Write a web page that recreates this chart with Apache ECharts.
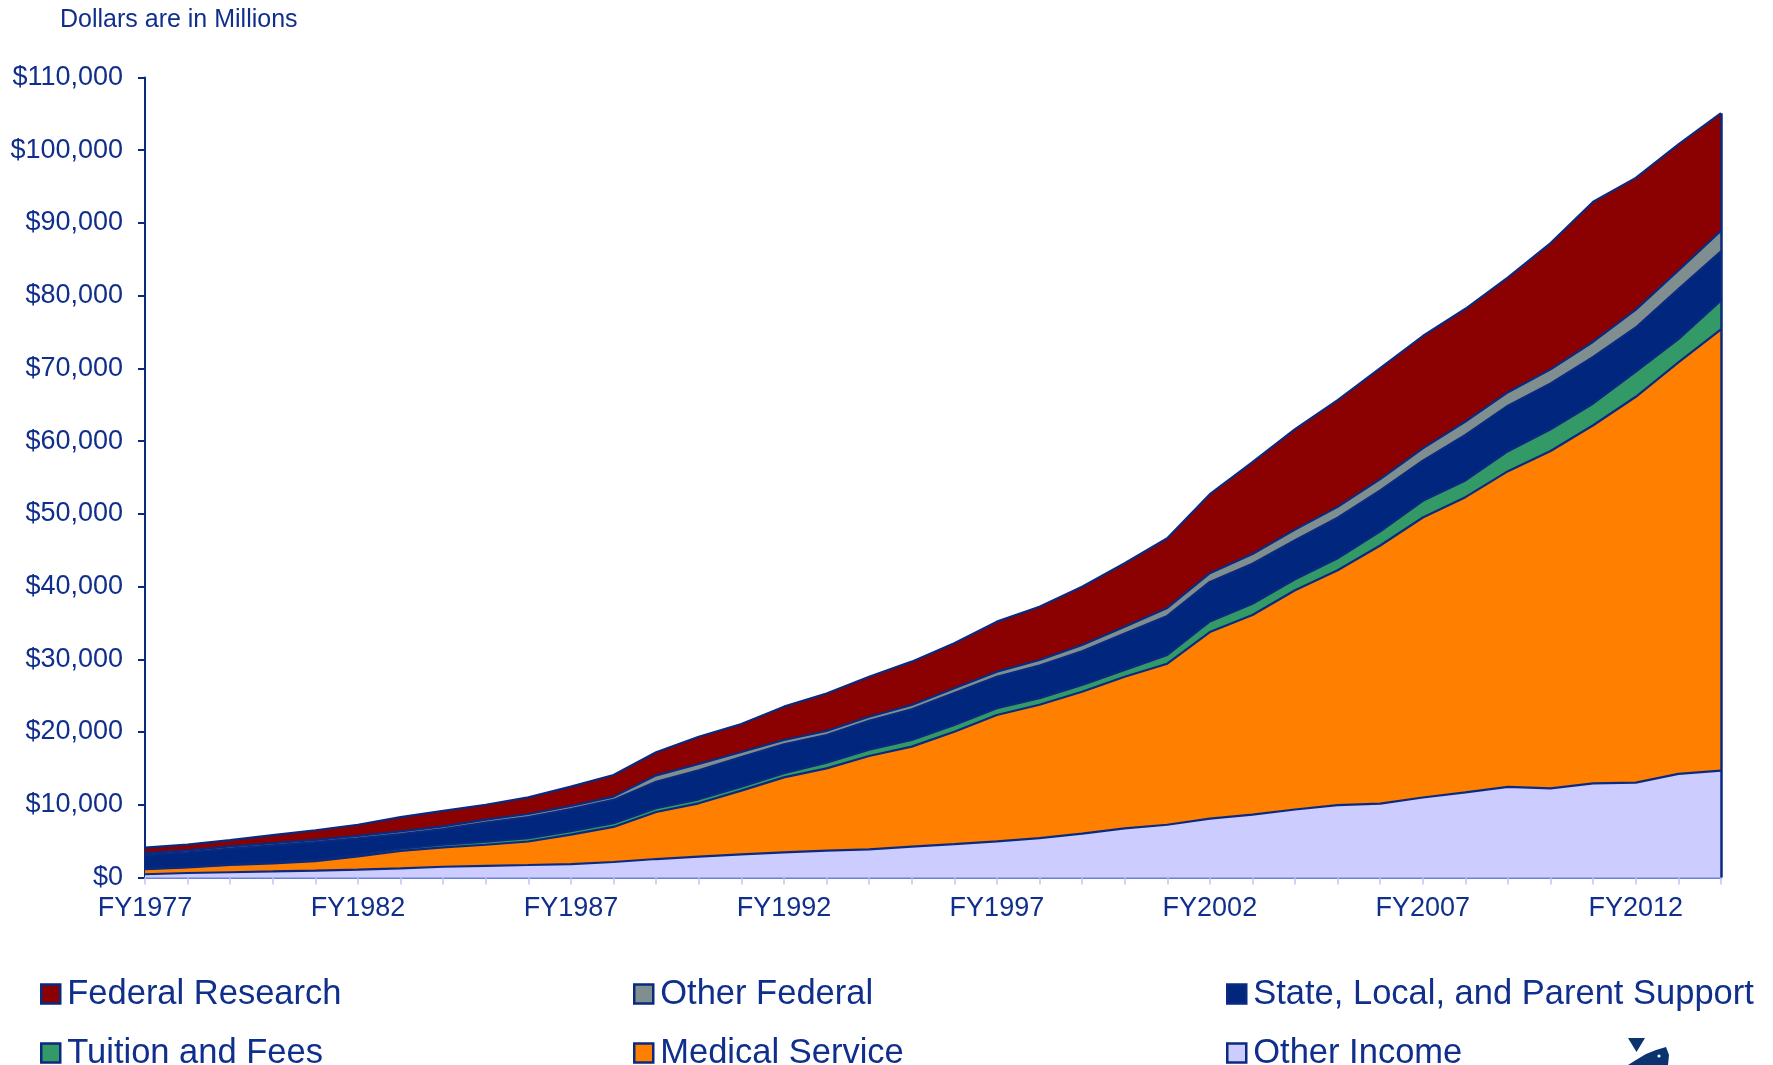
<!DOCTYPE html>
<html>
<head>
<meta charset="utf-8">
<title>Revenue sources</title>
<script src="https://cdn.jsdelivr.net/npm/echarts@6/dist/echarts.min.js"></script>
<style>
  html, body { margin: 0; padding: 0; background: #fff; }
  #chart { width: 1773px; height: 1065px; }
</style>
</head>
<body>
<div id="chart"></div>
<script>
// values in millions of dollars, FY1977 .. FY2014
const years = [];
for (let y = 1977; y <= 2014; y++) years.push('FY' + y);

const otherIncome = [450, 620, 720, 830, 950, 1080, 1250, 1480, 1600, 1720,
  1850, 2130, 2540, 2860, 3180, 3460, 3700, 3870, 4250, 4580,
  4970, 5420, 6030, 6750, 7250, 8100, 8650, 9350, 9950, 10150,
  11000, 11700, 12450, 12250, 12950, 13050, 14250, 14700];
const medicalService = [700, 780, 1000, 1120, 1300, 1820, 2400, 2670, 2900, 3230,
  4050, 4820, 6460, 7340, 8760, 10310, 11300, 12830, 13750, 15470,
  17380, 18330, 19520, 20850, 22150, 25650, 27450, 30150, 32300, 35500,
  38500, 40600, 43420, 46390, 49230, 53050, 56570, 60680];
const tuitionFees = [50, 60, 80, 100, 150, 250, 300, 350, 420, 450,
  480, 520, 520, 550, 560, 580, 780, 880, 900, 920,
  920, 920, 920, 950, 1200, 1450, 1550, 1500, 1650, 1950,
  2300, 2300, 2750, 3000, 3000, 3450, 3200, 3950];
const stateLocal = [1900, 1990, 2180, 2370, 2460, 2240, 2020, 2140, 2630, 2910,
  3020, 3200, 3630, 4000, 4050, 3950, 3820, 3950, 4220, 4390,
  4330, 4480, 4650, 4990, 5370, 5440, 5490, 5380, 5560, 5630,
  5500, 6250, 6260, 6280, 6390, 6080, 6890, 6770];
const otherFederal = [250, 270, 290, 300, 320, 340, 360, 380, 400, 420,
  430, 450, 900, 850, 700, 600, 550, 580, 600, 650,
  700, 750, 850, 950, 1100, 1200, 1350, 1450, 1500, 1550,
  1700, 1850, 1850, 1950, 2100, 2450, 2550, 2850];
const federalResearch = [750, 820, 870, 1100, 1320, 1520, 1970, 2150, 2050, 2290,
  2660, 2970, 3160, 3760, 3850, 4590, 5150, 5500, 5960, 6190,
  6880, 7340, 8020, 8710, 9580, 10860, 12610, 13820, 14680, 15270,
  15450, 15500, 15780, 17370, 19250, 18120, 17350, 16140];

const navy = '#0a2a80';
const textNavy = '#102f8c';
const font = 'Liberation Sans, Arial, sans-serif';

const totals = years.map((_, i) => otherIncome[i] + medicalService[i] + tuitionFees[i] +
  stateLocal[i] + otherFederal[i] + federalResearch[i]);
const last = years.length - 1;

function area(name, data, fill) {
  return {
    name: name,
    type: 'line',
    stack: 'all',
    data: data,
    symbol: 'none',
    animation: false,
    itemStyle: { color: fill },
    lineStyle: { color: navy, width: 2.2 },
    areaStyle: { color: fill, opacity: 1 }
  };
}

function legendAt(name, left, top) {
  return {
    data: [name],
    left: left,
    top: top,
    padding: 0,
    icon: 'rect',
    itemWidth: 19,
    itemHeight: 19,
    itemGap: 0,
    selectedMode: false,
    itemStyle: { borderColor: navy, borderWidth: 2.5 },
    textStyle: { color: textNavy, fontSize: 34.5, fontFamily: font, lineHeight: 40, padding: [0, 0, 0, 2] }
  };
}

const chart = echarts.init(document.getElementById('chart'));

const series = [
  area('Other Income', otherIncome, '#ccccff'),
  area('Medical Service', medicalService, '#ff8000'),
  area('Tuition and Fees', tuitionFees, '#339966'),
  area('State, Local, and Parent Support', stateLocal, '#00267e'),
  area('Other Federal', otherFederal, '#7f8f90'),
  area('Federal Research', federalResearch, '#8b0000')
];
// closing edge on the right of the stack
series[5].markLine = {
  silent: true,
  symbol: 'none',
  animation: false,
  label: { show: false },
  lineStyle: { color: navy, width: 2.5, type: 'solid' },
  data: [[{ coord: [years[last], 0] }, { coord: [years[last], totals[last]] }]]
};

chart.setOption({
  backgroundColor: '#ffffff',
  animation: false,
  title: {
    text: 'Dollars are in Millions',
    left: 60,
    top: 8,
    padding: 0,
    textStyle: { color: textNavy, fontSize: 25, fontWeight: 'normal', fontFamily: font }
  },
  legend: [
    legendAt('Federal Research', 40, 974),
    legendAt('Other Federal', 633, 974),
    legendAt('State, Local, and Parent Support', 1226, 974),
    legendAt('Tuition and Fees', 40, 1033),
    legendAt('Medical Service', 633, 1033),
    legendAt('Other Income', 1226, 1033)
  ],
  grid: { left: 145, right: 52, top: 77.5, bottom: 187.5, containLabel: false },
  xAxis: {
    type: 'category',
    boundaryGap: false,
    data: years,
    axisLine: { lineStyle: { color: '#6b82d4', width: 2 } },
    axisTick: { interval: 0, length: 7, lineStyle: { color: '#b9c6f2', width: 1.5 } },
    axisLabel: { interval: 4, color: textNavy, fontSize: 27, fontFamily: font, margin: 18 },
    splitLine: { show: false }
  },
  yAxis: {
    type: 'value',
    min: 0,
    max: 110000,
    interval: 10000,
    axisLine: { show: true, lineStyle: { color: navy, width: 2 } },
    axisTick: { show: true, length: 7, lineStyle: { color: navy, width: 2 } },
    axisLabel: {
      color: textNavy, fontSize: 27, fontFamily: font, margin: 22,
      formatter: v => '$' + v.toLocaleString('en-US')
    },
    splitLine: { show: false }
  },
  series: series,
  graphic: [
    { type: 'polygon', shape: { points: [[1628, 1038], [1645, 1038], [1636.5, 1052]] }, style: { fill: '#0a3370' } },
    { type: 'polygon', shape: { points: [[1628, 1065], [1636, 1060], [1646, 1054], [1656, 1050], [1666, 1047], [1669, 1055], [1668, 1065]] }, style: { fill: '#0a3370' } },
    { type: 'circle', shape: { cx: 1659, cy: 1056, r: 1.6 }, style: { fill: '#ffffff' } }
  ]
});
</script>
</body>
</html>
